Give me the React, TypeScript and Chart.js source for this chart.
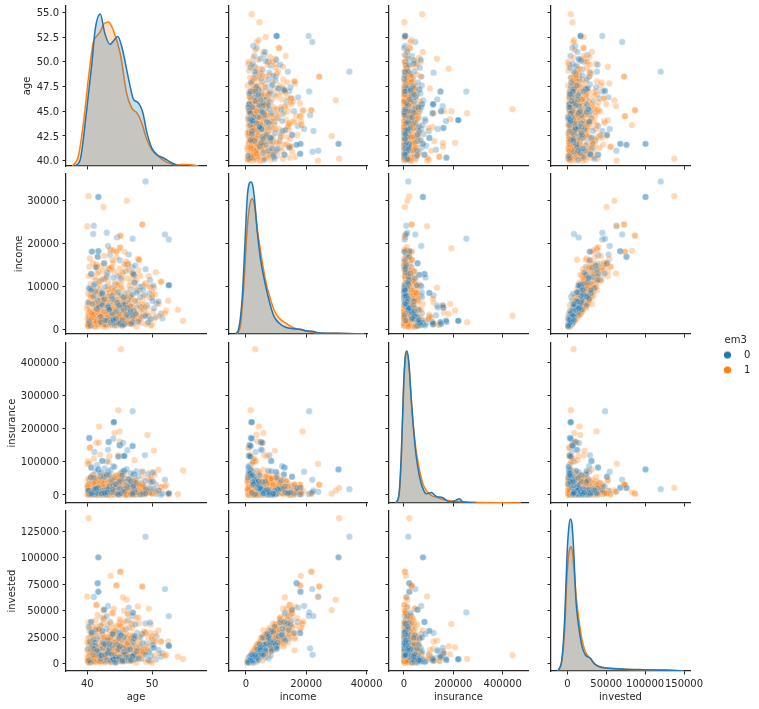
import React, { useEffect, useRef } from "react";
import { Chart, registerables } from "chart.js";

Chart.register(...registerables);

const variables = ["age", "income", "insurance", "invested"];

// ---- records of hue group 0 (index-aligned across the four lists) ----
const age0 = [
  49.0,41.7,41.7,41.0,43.0,52.0,47.0,52.6,40.9,44.6,
  41.7,41.7,40.7,40.7,41.6,41.6,43.2,43.5,45.0,46.4,
  42.6,42.6,41.3,46.3,47.4,47.0,40.6,40.6,43.0,44.7,
  47.2,47.2,49.7,52.6,52.6,52.6,50.2,48.5,47.3,47.3,
  44.1,44.1,44.1,40.3,40.3,45.0,45.0,45.7,45.7,45.7,
  43.3,43.3,43.2,41.1,42.3,42.3,45.7,45.7,44.0,43.0,
  45.5,46.2,44.0,47.0,47.0,44.8,44.8,48.9,50.1,51.6,
  40.1,40.3,40.4,40.6,40.8,40.9,41.0,41.1,41.2,41.3,
  41.4,41.5,41.6,41.7,41.8,41.9,42.0,42.0,42.1,42.2,
  42.3,42.4,42.4,42.5,42.6,42.7,42.8,42.9,43.0,43.1,
  43.2,43.3,43.4,43.5,43.6,43.7,43.8,43.9,44.0,44.1,
  44.2,44.3,44.4,44.5,44.6,44.7,44.8,44.9,45.0,45.1,
  45.2,45.3,45.4,45.5,45.6,45.7,45.8,45.9,46.0,46.1,
  46.2,46.3,46.4,46.5,46.6,46.7,46.8,46.9,47.0,47.1,
  47.2,47.4,47.5,47.7,47.9,48.0,48.2,48.4,48.6,48.8,
  49.0,49.2,49.4,49.6,49.8,50.0,50.3,50.6,51.0,51.4,
  40.5,41.4,42.2,43.0,43.8,44.6,45.4,46.2,47.0,48.3,
  41.2,42.0,43.1,44.3,45.2,46.0,47.1,48.1,49.0,41.5,
  42.7,43.7,44.9,46.6,40.2,41.9,43.4,45.6,47.6,49.5,
  40.6,42.1,43.9,45.1,46.7,48.7,41.0,42.5,44.4,50.7,
];
const income0 = [
  34300,30700,30700,24000,22400,22000,21000,20800,22100,21300,
  18100,18100,18000,18000,16800,16800,19300,17200,16000,17300,
  15300,15300,14300,15200,14800,14300,12800,12800,12100,12200,
  12600,12600,11400,10200,10200,10200,10100,9900,10800,10800,
  1900,1900,1900,1700,1700,1200,1200,1100,1100,1100,
  5000,5000,5000,3200,8400,8400,7400,3700,12000,2600,
  5500,5400,2000,1600,1600,1500,1500,7800,6500,2500,
  6200,2500,9300,4100,5800,1700,7600,3200,8800,2100,
  4700,1300,6600,3600,5100,9000,2800,7200,1600,4300,
  8100,2400,5500,3000,6900,1100,9800,3900,2000,7400,
  5300,2700,4500,8400,1500,6300,3400,9500,2300,5900,
  800,7000,4000,1900,6100,3100,8600,2600,5000,1400,
  7800,3700,900,6700,4400,2200,5700,8200,3300,1800,
  4900,7100,2900,6000,3800,9200,1200,5200,8000,2500,
  4200,6500,3500,8900,1700,5400,7500,2700,9100,4600,
  3000,5600,1500,8300,2300,7300,4800,2800,6400,3600,
  700,3400,5800,1000,7700,4100,2100,6800,3200,5100,
  10500,11200,13100,10300,11800,13500,12900,9800,13900,14500,
  2000,3500,5500,7500,9500,1200,4500,6500,8500,3000,
  9000,8200,7000,5800,4200,3100,10200,11600,2500,6000,
];
const insurance0 = [
  17500,77000,77000,9500,13500,46000,253000,3000,9000,5000,
  22000,22000,2000,2000,21000,21000,70000,8000,4000,12000,
  55000,55000,7000,25000,8000,31000,83000,83000,18000,6000,
  62000,62000,20000,5000,5000,5000,68000,70000,15000,15000,
  220000,220000,220000,172000,172000,150000,150000,118000,118000,118000,
  160000,160000,137000,130000,103000,103000,73000,73000,87000,101000,
  157000,135000,170000,148000,148000,116000,116000,120000,40000,5000,
  12000,45000,3000,28000,8000,60000,15000,35000,2000,72000,
  20000,90000,5000,41000,10000,6000,55000,1000,68000,18000,
  4000,33000,14000,50000,7000,80000,2500,24000,62000,9000,
  16000,38000,26000,1500,75000,11000,47000,3500,30000,13000,
  85000,6500,22000,58000,4500,36000,1200,43000,19000,65000,
  5500,27000,70000,8500,17000,52000,10500,2200,40000,78000,
  23000,7500,48000,12500,31000,3200,66000,21000,6000,44000,
  29000,9500,37000,4200,56000,15500,1800,34000,2800,25000,
  42000,11500,64000,8000,39000,5200,18500,32000,13500,600,
  53000,20500,4800,46000,9000,28500,59000,14500,2400,35500,
  18000,35000,8000,12000,44000,3000,26000,10000,5000,15000,
  6000,20000,39000,50000,14000,2500,60000,28000,72000,10000,
  4500,31000,16000,1500,42000,24000,52000,9000,33000,3000,
];
const invested0 = [
  120000,100500,100500,63000,45000,70500,48500,45000,8500,14500,
  68000,68000,29000,29000,76000,76000,54500,39500,29000,53000,
  51000,51000,32000,41000,37000,45000,39500,39500,33000,30000,
  24000,24000,39000,17000,17000,17000,15000,28000,26000,26000,
  4300,4300,4300,3400,3400,6000,6000,3000,3000,3000,
  10000,10000,12000,5500,31000,31000,25000,10000,28000,9000,
  15000,13000,4500,7000,7000,4500,4500,29000,18000,10000,
  14000,4000,21000,9000,17000,3000,23000,6500,17000,5000,
  12000,2500,12000,11000,8000,26000,8000,16000,4500,7000,
  20000,6000,15000,4500,19000,2000,18000,12500,3500,13000,
  10000,7500,14000,25000,3000,20000,9000,23000,4000,11000,
  1500,15000,6000,5500,18000,10000,14000,3500,16000,2500,
  27000,7500,2000,22000,11000,6500,9000,18000,5500,4000,
  13000,19000,6000,10000,13500,16000,3000,17000,21000,7000,
  8000,16500,4500,29000,5000,12000,25000,5000,19500,9500,
  8500,19000,3500,12000,7000,21500,15000,4000,13000,6500,
  1200,11500,8000,2500,17500,12000,3000,24000,7000,14500,
  20000,36000,22000,31000,27000,33000,48000,15500,38000,24000,
  8500,1800,24500,5000,35000,4500,18500,6000,12000,11000,
  30000,7500,28000,20000,3500,11000,14000,42000,800,26000,
];

// ---- records of hue group 1 (index-aligned across the four lists) ----
const age1 = [
  40.2,46.1,42.5,40.0,48.5,48.5,45.1,45.1,45.0,45.2,
  44.8,41.8,44.2,49.3,45.0,41.4,41.8,50.3,40.4,40.4,
  54.8,54.0,51.0,52.2,51.4,51.4,50.0,50.5,47.3,43.6,
  44.5,44.5,41.4,41.4,45.5,46.3,46.3,44.0,42.3,47.8,
  47.0,43.6,45.1,44.0,45.8,40.4,42.6,44.5,43.9,48.0,
  48.0,40.3,41.4,43.1,45.0,43.5,41.7,45.5,46.4,49.5,
  40.1,40.3,43.4,44.8,43.3,48.5,50.0,52.0,41.0,42.0,
  40.0,40.0,40.1,40.1,40.2,40.2,40.3,40.3,40.4,40.5,
  40.5,40.6,40.6,40.7,40.7,40.8,40.8,40.9,40.9,41.0,
  41.0,41.1,41.1,41.2,41.2,41.3,41.3,41.4,41.5,41.5,
  41.6,41.6,41.7,41.7,41.8,41.8,41.9,42.0,42.0,42.1,
  42.1,42.2,42.3,42.3,42.4,42.4,42.5,42.6,42.6,42.7,
  42.8,42.8,42.9,43.0,43.0,43.1,43.2,43.2,43.3,43.3,
  43.4,43.5,43.5,43.6,43.7,43.7,43.8,43.9,43.9,44.0,
  44.0,44.1,44.2,44.2,44.3,44.4,44.4,44.5,44.6,44.7,
  44.8,44.9,45.0,45.0,45.1,45.2,45.3,45.4,45.5,45.6,
  45.7,45.8,45.9,46.0,46.1,46.2,46.3,46.4,46.5,46.6,
  46.7,46.8,47.0,47.1,47.2,47.3,47.5,47.6,47.8,48.0,
  48.2,48.4,48.7,49.0,49.3,49.6,50.0,50.4,41.5,42.5,
  40.3,40.8,41.2,41.7,42.2,42.7,43.1,43.6,44.1,44.6,
  45.1,45.6,46.1,46.6,47.1,47.7,40.2,40.6,41.1,41.6,
  42.0,42.5,43.0,43.5,44.0,44.5,45.0,45.5,46.0,40.1,
  40.4,40.9,41.3,41.8,42.3,42.8,43.3,43.8,44.3,44.8,
  45.3,45.8,46.3,46.8,47.4,48.1,48.9,49.8,51.2,52.5,
  40.5,41.0,41.9,42.4,43.2,43.8,44.3,44.9,45.4,45.9,
  46.5,47.0,47.6,48.2,49.0,49.8,40.9,41.6,42.7,43.4,
  44.1,45.2,46.0,46.7,47.4,48.8,50.6,41.3,42.2,43.0,
  44.6,45.7,46.2,47.9,49.4,40.2,41.8,43.7,44.8,46.9,
  40.0,40.2,40.4,40.6,40.8,41.0,41.2,41.4,41.6,41.8,
  42.0,42.2,42.4,42.6,42.8,43.0,43.2,43.4,43.6,43.8,
  44.0,44.2,44.4,44.6,44.8,45.0,45.2,45.4,45.6,45.8,
  46.0,46.2,46.4,46.6,46.8,47.0,47.2,47.4,47.6,47.8,
  48.0,48.3,48.6,49.1,49.7,50.2,40.1,40.7,41.3,41.9,
  42.5,43.1,43.7,44.3,44.9,45.5,46.1,46.7,47.3,48.5,
];
const income1 = [
  30900,29800,28400,23900,24300,24300,21700,21700,18800,3100,
  1600,4300,5800,3500,3800,5000,5500,9600,1000,1000,
  1900,4500,5800,4300,11000,11000,1000,8000,3000,18200,
  18000,18000,14500,14500,12900,15000,15000,15500,11500,16300,
  11900,18500,19000,18300,17900,16400,17000,16700,16000,16100,
  16100,14500,15000,14200,14000,13900,13300,13200,13800,12300,
  3300,2200,7100,6100,2300,4500,7800,3700,2700,1300,
  2300,5400,1200,8200,3600,700,6400,2900,4500,1500,
  9300,2100,7300,3300,1000,5800,2600,4100,8700,1800,
  6100,3800,600,5100,2400,7700,1300,4600,3000,9800,
  2000,6700,3500,800,5300,2700,8000,1600,4300,6900,
  1100,3100,5600,2200,9000,3900,1400,7100,2800,4900,
  500,6300,3400,1900,8400,5000,2500,4000,7500,1700,
  3200,6000,900,5500,2300,9500,3700,1200,4700,2900,
  7900,1500,6600,3300,5200,2100,4400,800,8100,2600,
  5700,3600,1000,6800,3000,4800,1800,9200,2400,7000,
  4200,1300,5900,2800,3500,8500,1600,6200,4600,2000,
  7400,3100,1100,5300,2700,9700,3800,600,6500,2200,
  4100,1400,7800,3400,5000,1900,8800,2500,4500,700,
  6000,3200,1700,5500,2900,7200,4300,1000,3700,8300,
  2100,6400,4900,1200,3000,5100,900,7600,2600,4000,
  1500,6700,3500,2300,8900,5400,1800,4700,2800,1100,
  3900,7300,500,5800,3300,2000,9100,4400,1300,6100,
  2700,4800,1600,7000,3600,2200,5200,800,3100,6600,
  10500,12000,10200,13500,11000,14300,10800,12700,11500,14800,
  10000,13000,11200,12400,10700,9800,15300,12900,11700,14000,
  13400,10400,15700,10900,12200,10300,13200,11400,14700,12600,
  10100,15100,11800,13700,9900,12300,11100,14400,10600,13100,
  4700,1200,7900,2600,9400,3400,6200,1700,5500,8600,
  3000,2200,7000,4100,1000,6300,9900,2400,5000,3700,
  8300,1500,4600,6800,2800,3500,9600,700,5900,2100,
  7600,3900,1300,5200,8000,2500,4400,6500,3300,1800,
  9000,2900,5600,1100,7200,4000,600,3600,8500,1900,
  6000,2700,4800,9200,1400,7400,3200,5300,2300,6600,
];
const insurance1 = [
  21500,13500,4000,94000,31000,31000,4000,4000,192000,440000,
  256000,207000,187000,181000,162000,158000,158000,134000,143000,143000,
  74000,2000,76000,30000,24000,24000,4000,12000,105000,8000,
  31000,31000,2000,2000,10000,8000,8000,6000,20000,13000,
  5000,3000,12000,7000,22000,1500,9000,16000,28000,32000,
  32000,1000,18000,4500,26000,11000,38000,7000,15000,46000,
  102000,95000,117000,120000,100000,70000,68000,26000,110000,122000,
  1000,25000,3000,48000,500,12000,33000,6000,18000,2000,
  52000,8000,1500,40000,4000,15000,60000,10000,800,28000,
  5000,21000,35000,2500,44000,7000,14000,1200,30000,9000,
  55000,3500,17000,600,38000,11000,24000,4500,65000,13000,
  2000,46000,8500,19000,1000,31000,6500,42000,3000,23000,
  16000,58000,700,10000,27000,5500,36000,1800,50000,12500,
  4000,20000,62000,7500,1300,34000,15500,2800,43000,9500,
  26000,900,54000,6000,18500,3200,39000,11500,47000,2200,
  22000,8000,32000,500,14500,57000,5000,29000,1600,41000,
  10500,3800,25500,68000,7000,17500,1100,37000,12000,4800,
  49000,2400,20500,9000,35500,6200,600,45000,16500,3000,
  28000,13500,53000,1900,8200,24000,4200,61000,11000,700,
  33000,5800,19500,2600,40000,10000,1400,30500,7200,51000,
  15000,3400,26500,900,44000,6800,21500,2100,36500,12800,
  4600,56000,9200,18000,1200,32500,7800,47000,3600,23500,
  500,14000,42000,5200,27000,1700,38500,10800,59000,6000,
  2900,20000,8600,34500,1000,16000,4400,48000,13000,2300,
  8000,24000,2000,41000,15000,5000,32000,11000,47000,1500,
  20000,6500,36000,13000,3500,54000,9000,27000,17000,3000,
  43000,60000,1000,10000,30000,22000,7000,38000,500,14000,
  51000,4500,19000,26000,12000,2500,34000,6000,45000,16500,
  30000,4000,14000,55000,2000,37000,9000,22000,700,46000,
  16000,3000,33000,11000,63000,5500,26000,1500,41000,19000,
  7000,52000,12000,2500,35000,24000,4500,58000,10000,29000,
  1000,48000,17000,6000,38000,13000,2000,44000,21000,8000,
  32000,500,27000,15000,6500,40000,18000,3500,50000,9500,
  25000,1200,36000,5000,60000,11500,28000,2800,42000,7500,
];
const invested1 = [
  137500,60500,50500,63500,73000,73000,87000,87000,37500,8000,
  4500,15500,9000,16500,10000,8000,12000,22000,2500,2500,
  4500,6500,31500,8500,21000,21000,1000,28500,13000,83000,
  74000,74000,55500,55500,62500,47000,47000,47500,44000,54000,
  37500,38000,40000,34000,32000,25000,43000,36000,29000,12500,
  23500,31000,35000,25000,42000,20000,32000,38000,27000,52000,
  8000,4000,14000,21000,5000,9500,24000,7500,6500,3000,
  5000,13000,2500,24000,6000,1500,18000,9000,8000,4000,
  19000,6500,14000,10000,3000,21000,4500,13000,27000,3500,
  11000,9500,1500,15000,7500,20000,4000,12000,5000,30000,
  3000,23000,12000,2500,9000,8500,16000,5500,7000,17000,
  2000,7500,19000,4000,22000,14000,3000,26000,6000,11000,
  1200,13000,8000,6000,18000,16500,3500,10000,24000,4500,
  11000,15000,2000,10000,6000,25000,7000,3500,14500,5500,
  21000,2500,12000,9000,17500,5000,9500,1800,28000,7000,
  14000,13000,2500,20000,8000,6500,5000,29000,4500,16000,
  11500,2000,22000,9500,5500,19500,3500,17000,10000,7000,
  23000,6500,3000,12500,4000,24000,12000,1000,19000,5500,
  8500,4500,15000,11000,13500,3000,26000,8000,15500,2000,
  20000,5000,6000,16000,7000,18500,12000,1500,9000,22500,
  3500,15000,8500,3000,10000,11000,2500,27000,5000,14000,
  5000,18000,7500,7500,20500,18500,4000,9000,8000,2500,
  11000,21500,1500,12000,6000,6000,23000,13500,3500,16500,
  6500,17000,3000,25000,8500,7000,14000,2000,9500,21000,
  18000,30000,33000,38000,25000,48000,15500,36000,22000,40000,
  34000,27000,43000,19000,29000,37000,34500,46000,24500,31000,
  52000,17000,28000,38500,23000,30500,21000,41000,36000,16500,
  26000,50000,20000,44000,24500,39000,32500,28000,23000,34000,
  20000,1000,34000,12500,13000,2500,27000,8000,3000,33000,
  13500,2000,28000,19000,6000,9000,37000,10500,24500,3500,
  30000,7500,20500,12000,4000,17000,35000,4000,26000,11000,
  9000,18500,2500,24000,14000,3000,19500,9500,15000,8500,
  38000,12000,11000,1500,29000,17500,3000,16000,13000,2000,
  24500,10000,9000,31000,6500,32000,14500,7000,9500,28000,
];

// ---- density curves on the diagonal (value, share of panel height) ----
const ageKdeX0 = [38.1,38.9,39.9,40.7,41.2,42.0,42.7,43.5,44.0,44.7,45.3,46.4,47.1,47.9,48.6,49.2,50.0,50.8,51.8,52.8,53.9];
const ageKdeY0 = [0,0.04,0.35,0.64,0.85,0.95,0.83,0.76,0.78,0.81,0.75,0.54,0.42,0.394,0.33,0.21,0.11,0.07,0.05,0.025,0.004];
const ageKdeX1 = [37.7,38.6,39.4,40.2,40.9,41.4,42.0,42.5,43.3,44.0,45.1,46.1,46.9,47.7,48.4,49.2,50.0,51.0,52.3,53.6,55.4,57.2];
const ageKdeY1 = [0,0.06,0.27,0.56,0.77,0.81,0.84,0.885,0.9,0.85,0.7,0.45,0.36,0.33,0.27,0.165,0.1,0.06,0.023,0.008,0.01,0];

const incomeKdeX0 = [-3420,-2310,-1210,-430,450,1000,1670,2340,2890,3780,4890,6000,7100,8200,9310,10970,13180,15950,18160,19800,22000,24800,30300,38600];
const incomeKdeY0 = [0,0.0375,0.225,0.51,0.85,0.933,0.95,0.923,0.84,0.64,0.465,0.35,0.256,0.173,0.11,0.069,0.042,0.033,0.029,0.02,0.017,0.006,0.004,0];
const incomeKdeX1 = [-2860,-1760,-650,450,1340,2120,2890,3780,4890,6000,7100,8200,9310,10970,13180,15950,18160,21500,24800,30300,39200];
const incomeKdeY1 = [0,0.058,0.308,0.66,0.81,0.846,0.8,0.66,0.517,0.39,0.288,0.215,0.152,0.1,0.069,0.0375,0.027,0.0125,0.006,0.004,0];

const insuranceKdeX0 = [-33500,-20000,-10600,-1200,6900,12300,20300,29800,39200,50000,63400,76800,90400,110600,130800,157700,184700,205000,225000,238000,292000];
const insuranceKdeY0 = [0,0.058,0.308,0.746,0.933,0.95,0.871,0.642,0.454,0.2875,0.1625,0.09,0.058,0.065,0.0417,0.033,0.006,0.0125,0.027,0.008,0];
const insuranceKdeX1 = [-33500,-20000,-10600,-1200,6900,12300,20300,29800,39200,50000,63400,76800,90400,110600,137700,171000,200000,292000,474000];
const insuranceKdeY1 = [0,0.048,0.2875,0.725,0.923,0.9375,0.86,0.642,0.465,0.319,0.204,0.121,0.079,0.048,0.033,0.017,0.012,0.004,0];

const investedKdeX0 = [-12000,-6830,-3400,-390,1760,3910,6060,8200,11200,14650,18950,23250,29700,33990,40400,53300,70500,98000,128000,149500];
const investedKdeY0 = [0,0.08,0.33,0.725,0.89,0.95,0.915,0.75,0.433,0.277,0.152,0.1,0.079,0.048,0.027,0.017,0.0125,0.008,0.004,0];
const investedKdeX1 = [-12000,-6830,-3400,-390,2620,5200,8200,11200,14650,18950,23250,29700,36100,42600,53300,70500,98000,128000,149500];
const investedKdeY1 = [0,0.069,0.267,0.6,0.756,0.777,0.66,0.475,0.329,0.194,0.12,0.079,0.042,0.027,0.017,0.0104,0.006,0.006,0];

// ---- axes ----
const ageXTicks = [40, 50];
const incomeXTicks = [0, 20000, 40000];
const insuranceXTicks = [0, 200000, 400000];
const investedXTicks = [0, 50000, 100000, 150000];
const ageYTicks = [40, 42.5, 45, 47.5, 50, 52.5, 55];
const incomeYTicks = [0, 10000, 20000, 30000];
const insuranceYTicks = [0, 100000, 200000, 300000, 400000];
const investedYTicks = [0, 25000, 50000, 75000, 100000, 125000];

const xLimits = [[36.7, 58.35], [-5580, 40130], [-60600, 502600], [-21000, 157700]];
const yLimits = [[39.46, 55.64], [-1160, 36050], [-24200, 459000], [-6900, 144300]];

const groupLabels = ["0", "1"];
const hueColors = ["#1f77b4", "#ff7f0e"];
const scatterFill = ["rgba(31,119,180,0.3)", "rgba(255,127,14,0.3)"];
const kdeFill = ["rgba(31,119,180,0.25)", "rgba(255,127,14,0.25)"];
const ink = "#262626";
const fontFamily = "'DejaVu Sans', sans-serif";

// layout in page pixels
const colLeft = [66, 228.5, 389.3, 551];
const colRight = [205.5, 366, 528.7, 689.7];
const rowTop = [6, 174.3, 343.3, 511.3];
const rowBottom = [166, 334.3, 503.3, 671.3];
const yTitleLeft = [21, 13, 6, 6];

const series = [
  [age0, income0, insurance0, invested0],
  [age1, income1, insurance1, invested1],
];
const kdes = [
  [[ageKdeX0, ageKdeY0], [ageKdeX1, ageKdeY1]],
  [[incomeKdeX0, incomeKdeY0], [incomeKdeX1, incomeKdeY1]],
  [[insuranceKdeX0, insuranceKdeY0], [insuranceKdeX1, insuranceKdeY1]],
  [[investedKdeX0, investedKdeY0], [investedKdeX1, investedKdeY1]],
];
const xTicks = [ageXTicks, incomeXTicks, insuranceXTicks, investedXTicks];
const yTicks = [ageYTicks, incomeYTicks, insuranceYTicks, investedYTicks];

const PAD_TOP = 12;
const PAD_RIGHT = 20;
const BOTTOM_LOW = 32;
const BOTTOM_HIGH = 12;
const LEFT_INNER = 6;

function panelBox(r: number, c: number) {
  const left = c === 0 ? yTitleLeft[r] : colLeft[c] - LEFT_INNER;
  const top = rowTop[r] - PAD_TOP;
  const xAxisH = r === 3 ? BOTTOM_LOW : BOTTOM_HIGH;
  return {
    left,
    top,
    width: Math.round(colRight[c] + PAD_RIGHT - left),
    height: Math.round(rowBottom[r] + xAxisH - top),
    yAxisW: colLeft[c] - left,
    xAxisH,
  };
}

// Group 0 is spread under and over group 1, so the hues mix as in a plot drawn in record order.
function scatterLayer(g: number, r: number, c: number, keep: (i: number) => boolean) {
  const points: { x: number; y: number }[] = [];
  series[g][c].forEach((v: number, i: number) => {
    if (keep(i)) points.push({ x: v, y: series[g][r][i] });
  });
  return {
    type: "scatter",
    label: groupLabels[g],
    yAxisID: "y",
    data: points,
    backgroundColor: scatterFill[g],
    borderColor: "rgba(255,255,255,0.3)",
    borderWidth: 0.75,
    pointRadius: 3.2,
  };
}

function panelConfig(r: number, c: number): any {
  const box = panelBox(r, c);
  const datasets =
    r === c
      ? [0, 1].map((g) => ({
          type: "line",
          label: groupLabels[g],
          yAxisID: "yK",
          data: kdes[c][g][0].map((v: number, i: number) => ({ x: v, y: kdes[c][g][1][i] })),
          borderColor: hueColors[g],
          backgroundColor: kdeFill[g],
          borderWidth: 1.5,
          pointRadius: 0,
          fill: "origin",
          cubicInterpolationMode: "monotone",
        }))
      : [
          scatterLayer(0, r, c, (i) => i % 2 === 0),
          scatterLayer(1, r, c, () => true),
          scatterLayer(0, r, c, (i) => i % 2 === 1),
        ];
  const axisCommon = {
    border: { display: true, color: ink, width: 1.25 },
    grid: {
      drawOnChartArea: false,
      drawTicks: true,
      tickLength: 3.5,
      tickWidth: 1,
      tickColor: ink,
    },
  };
  return {
    type: "scatter",
    data: { datasets },
    options: {
      animation: false,
      responsive: false,
      maintainAspectRatio: false,
      events: [],
      layout: { padding: { top: PAD_TOP, right: PAD_RIGHT, left: 0, bottom: 0 } },
      plugins: { legend: { display: false }, tooltip: { enabled: false } },
      scales: {
        x: {
          type: "linear",
          position: "bottom",
          min: xLimits[c][0],
          max: xLimits[c][1],
          ...axisCommon,
          afterBuildTicks: (s: any) => {
            s.ticks = xTicks[c].map((value) => ({ value }));
          },
          afterFit: (s: any) => {
            s.height = box.xAxisH;
          },
          ticks: {
            autoSkip: false,
            maxRotation: 0,
            minRotation: 0,
            padding: 3.5,
            color: ink,
            font: { family: fontFamily, size: 10 },
            callback: (v: number) => (r === 3 ? String(v) : ""),
          },
          title: {
            display: r === 3,
            text: variables[c],
            color: ink,
            padding: 0,
            font: { family: fontFamily, size: 10 },
          },
        },
        y: {
          type: "linear",
          position: "left",
          min: yLimits[r][0],
          max: yLimits[r][1],
          ...axisCommon,
          afterBuildTicks: (s: any) => {
            s.ticks = yTicks[r].map((value) => ({ value }));
          },
          afterFit: (s: any) => {
            s.width = box.yAxisW;
          },
          ticks: {
            autoSkip: false,
            padding: 3.5,
            labelOffset: 1,
            color: ink,
            font: { family: fontFamily, size: 10 },
            callback: (v: number) => (c !== 0 ? "" : r === 0 ? v.toFixed(1) : String(v)),
          },
          title: {
            display: c === 0,
            text: variables[r],
            color: ink,
            padding: 0,
            font: { family: fontFamily, size: 10 },
          },
        },
        yK: { type: "linear", display: false, axis: "y", min: 0, max: 1 },
      },
    },
  };
}

function legendDot(color: string) {
  const dot = document.createElement("canvas");
  dot.width = 9;
  dot.height = 9;
  const ctx = dot.getContext("2d") as CanvasRenderingContext2D;
  ctx.fillStyle = color;
  ctx.beginPath();
  ctx.arc(4.5, 4.5, 3.6, 0, Math.PI * 2);
  ctx.fill();
  return dot;
}

function legendConfig(): any {
  const dots = hueColors.map(legendDot);
  return {
    type: "scatter",
    data: { datasets: groupLabels.map((label) => ({ label, data: [] })) },
    options: {
      animation: false,
      responsive: false,
      maintainAspectRatio: false,
      events: [],
      layout: { padding: 0 },
      scales: { x: { display: false }, y: { display: false } },
      plugins: {
        tooltip: { enabled: false },
        legend: {
          display: true,
          position: "left",
          align: "start",
          title: {
            display: true,
            text: "em3",
            color: ink,
            padding: { top: 0, bottom: 0 },
            font: { family: fontFamily, size: 10, lineHeight: 1 },
          },
          labels: {
            usePointStyle: true,
            pointStyleWidth: 23,
            boxHeight: 5,
            padding: 5,
            color: ink,
            font: { family: fontFamily, size: 10 },
            generateLabels: () =>
              groupLabels.map((text, i) => ({
                text,
                fillStyle: hueColors[i],
                strokeStyle: hueColors[i],
                lineWidth: 0,
                pointStyle: dots[i],
                datasetIndex: i,
                hidden: false,
              })),
          },
        },
      },
    },
  };
}

const cells: [number, number][] = [];
for (let r = 0; r < 4; r++) for (let c = 0; c < 4; c++) cells.push([r, c]);

export default function App() {
  const refs = useRef<(HTMLCanvasElement | null)[]>([]);
  const legendRef = useRef<HTMLCanvasElement | null>(null);

  useEffect(() => {
    const charts: Chart[] = cells.map(
      ([r, c], i) => new Chart(refs.current[i] as HTMLCanvasElement, panelConfig(r, c))
    );
    charts.push(new Chart(legendRef.current as HTMLCanvasElement, legendConfig()));
    return () => charts.forEach((ch) => ch.destroy());
  }, []);

  return (
    <div style={{ position: "absolute", left: 0, top: 0, width: 759, height: 709, overflow: "hidden", background: "#fff" }}>
      {cells.map(([r, c], i) => {
        const b = panelBox(r, c);
        return (
          <canvas
            key={i}
            ref={(el) => {
              refs.current[i] = el;
            }}
            width={b.width}
            height={b.height}
            style={{ position: "absolute", left: b.left, top: b.top, width: b.width, height: b.height }}
          />
        );
      })}
      <canvas
        ref={legendRef}
        width={120}
        height={60}
        style={{ position: "absolute", left: 711, top: 335, width: 120, height: 60 }}
      />
    </div>
  );
}
